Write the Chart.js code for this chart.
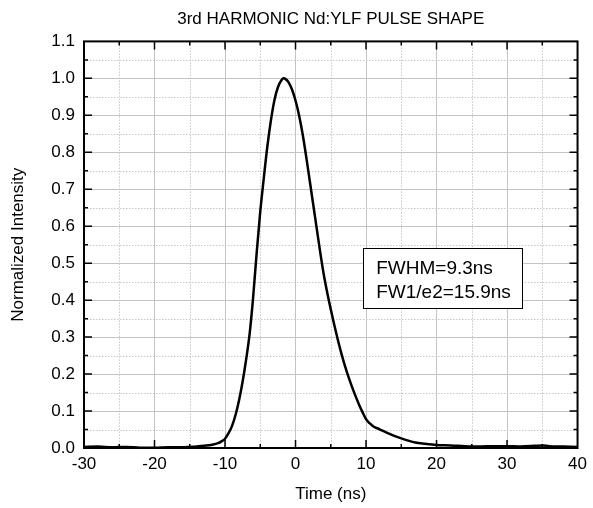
<!DOCTYPE html>
<html>
<head>
<meta charset="utf-8">
<script src="https://cdn.jsdelivr.net/npm/chart.js@4.4.1/dist/chart.umd.min.js"></script>
<style>
html, body { margin: 0; padding: 0; background: #fff; }
#wrap { width: 593px; height: 508px; }
</style>
</head>
<body>
<div id="wrap"><canvas id="chart" width="593" height="508"></canvas></div>
<script>
// pulse shape
const timeNs = [-30, -28, -26, -24, -22, -20, -18, -16, -15, -14, -13, -12, -11, -10.5, -10,
    -9.5, -9, -8.5, -8, -7.5, -7, -6.5, -6, -5.5, -5, -4.5, -4, -3.5, -3, -2.5, -2, -1.7,
    -1.4, -1, -0.5, 0, 0.5, 1, 1.5, 2, 2.5, 3, 3.5, 4, 4.5, 5, 5.5, 6, 6.5, 7, 7.5, 8,
    8.5, 9, 9.5, 10, 10.5, 11, 12, 13, 14, 15, 16, 17, 18, 19, 20, 22, 24, 26, 28, 30, 32,
    34, 35, 36, 38, 40];
const intensity = [0.003, 0.004, 0.002, 0.003, 0.001, 0.001, 0.002, 0.002, 0.003, 0.004,
    0.006, 0.008, 0.013, 0.018, 0.025, 0.04, 0.06, 0.09, 0.13, 0.18, 0.24, 0.31, 0.41,
    0.53, 0.64, 0.73, 0.815, 0.885, 0.94, 0.976, 0.995, 1.0, 0.998, 0.99, 0.97, 0.94,
    0.9, 0.85, 0.79, 0.725, 0.66, 0.595, 0.53, 0.47, 0.42, 0.375, 0.333, 0.293, 0.256,
    0.223, 0.193, 0.166, 0.141, 0.118, 0.097, 0.078, 0.067, 0.059, 0.05, 0.041, 0.033,
    0.026, 0.02, 0.015, 0.012, 0.01, 0.008, 0.007, 0.005, 0.004, 0.005, 0.005, 0.004,
    0.006, 0.007, 0.005, 0.004, 0.003];

const xMajor = [-30, -20, -10, 0, 10, 20, 30, 40];
const xMinor = [-25, -15, -5, 5, 15, 25, 35];
const yMajor = [0, 0.1, 0.2, 0.3, 0.4, 0.5, 0.6, 0.7, 0.8, 0.9, 1.0, 1.1];
const yMinor = [0.05, 0.15, 0.25, 0.35, 0.45, 0.55, 0.65, 0.75, 0.85, 0.95, 1.05];
const noteLines = ['FWHM=9.3ns', 'FW1/e2=15.9ns'];

const FONT = "'Liberation Sans', Arial, sans-serif";

// minor dotted grid, frame with inward ticks on all sides, and the text box
const framePlugin = {
    id: 'frame',
    beforeDatasetsDraw(chart) {
        const { ctx, chartArea: a, scales: { x, y } } = chart;
        ctx.save();
        ctx.strokeStyle = '#c8c8c8';
        ctx.lineWidth = 1;
        ctx.setLineDash([1.5, 1.5]);
        ctx.beginPath();
        xMinor.forEach(v => {
            const px = Math.round(x.getPixelForValue(v)) + 0.5;
            ctx.moveTo(px, a.top); ctx.lineTo(px, a.bottom);
        });
        yMinor.forEach(v => {
            const py = Math.round(y.getPixelForValue(v)) + 0.5;
            ctx.moveTo(a.left, py); ctx.lineTo(a.right, py);
        });
        ctx.stroke();
        ctx.restore();
    },
    afterDatasetsDraw(chart) {
        const { ctx, chartArea: a, scales: { x, y } } = chart;
        ctx.save();
        ctx.strokeStyle = '#000';
        ctx.lineWidth = 1.5;
        ctx.beginPath();
        const tick = (vals, len) => {
            vals.forEach(v => {
                const px = x.getPixelForValue(v);
                if (px > a.left + 1 && px < a.right - 1) {
                    ctx.moveTo(px, a.bottom); ctx.lineTo(px, a.bottom - len);
                    ctx.moveTo(px, a.top); ctx.lineTo(px, a.top + len);
                }
            });
        };
        const ytick = (vals, len) => {
            vals.forEach(v => {
                const py = y.getPixelForValue(v);
                if (py > a.top + 1 && py < a.bottom - 1) {
                    ctx.moveTo(a.left, py); ctx.lineTo(a.left + len, py);
                    ctx.moveTo(a.right, py); ctx.lineTo(a.right - len, py);
                }
            });
        };
        tick(xMajor, 8); tick(xMinor, 4);
        ytick(yMajor, 8); ytick(yMinor, 4);
        ctx.stroke();
        ctx.lineWidth = 2;
        ctx.strokeRect(a.left, a.top, a.right - a.left, a.bottom - a.top);

        // annotation box
        const bx = x.getPixelForValue(9.6), by = y.getPixelForValue(0.54);
        const bw = x.getPixelForValue(32.1) - bx, bh = y.getPixelForValue(0.378) - by;
        ctx.fillStyle = '#fff';
        ctx.fillRect(bx, by, bw, bh);
        ctx.lineWidth = 1;
        ctx.strokeRect(Math.round(bx) + 0.5, Math.round(by) + 0.5, Math.round(bw), Math.round(bh));
        ctx.fillStyle = '#000';
        ctx.font = '19px ' + FONT;
        ctx.textBaseline = 'middle';
        ctx.fillText(noteLines[0], bx + 13, by + 20);
        ctx.fillText(noteLines[1], bx + 13, by + 44);
        ctx.restore();
    }
};

new Chart(document.getElementById('chart'), {
    type: 'line',
    data: {
        datasets: [{
            data: timeNs.map((t, i) => ({ x: t, y: intensity[i] })),
            borderColor: '#000',
            borderWidth: 2.5,
            pointRadius: 0,
            cubicInterpolationMode: 'monotone',
            fill: false
        }]
    },
    options: {
        responsive: false,
        animation: false,
        devicePixelRatio: 1,
        layout: { padding: { top: 0, right: 9, left: 0, bottom: 0 } },
        plugins: {
            legend: { display: false },
            tooltip: { enabled: false },
            title: {
                display: true,
                fullSize: false,
                text: '3rd HARMONIC Nd:YLF PULSE SHAPE',
                color: '#000',
                font: { family: FONT, size: 17, weight: 'normal' },
                padding: { top: 9, bottom: 12 }
            }
        },
        scales: {
            x: {
                type: 'linear',
                min: -30, max: 40,
                afterFit: s => { s.height = 60; },
                ticks: { stepSize: 10, color: '#000', padding: 6, font: { family: FONT, size: 17 } },
                grid: { color: '#c4c4c4', lineWidth: 1, drawTicks: false },
                border: { display: false },
                title: { display: true, text: 'Time (ns)', color: '#000',
                         font: { family: FONT, size: 17 }, padding: { top: 4, bottom: 3 } }
            },
            y: {
                min: 0, max: 1.1,
                afterFit: s => { s.width = 84; },
                ticks: { stepSize: 0.1, color: '#000', padding: 9, font: { family: FONT, size: 17 },
                         callback: v => v.toFixed(1) },
                grid: { color: '#c4c4c4', lineWidth: 1, drawTicks: false },
                border: { display: false },
                title: { display: true, text: 'Normalized Intensity', color: '#000',
                         font: { family: FONT, size: 17 }, padding: { top: 8, bottom: 0 } }
            }
        }
    },
    plugins: [framePlugin]
});
</script>
</body>
</html>
